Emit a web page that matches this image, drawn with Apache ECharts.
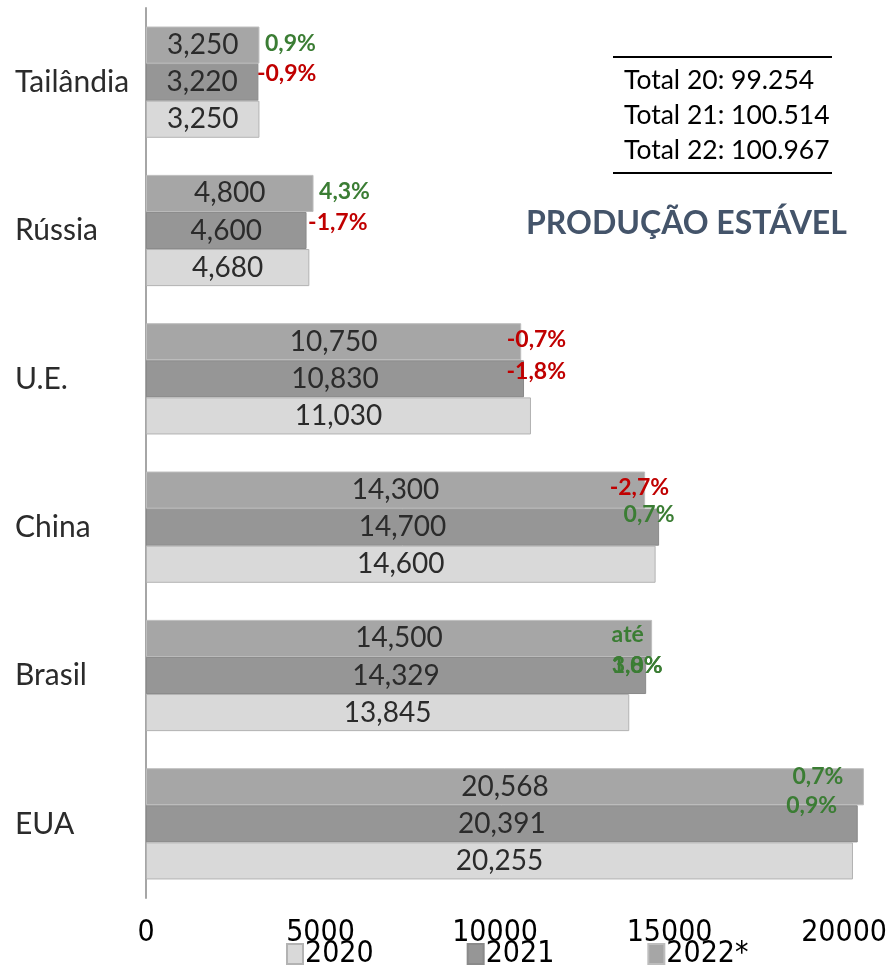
<!DOCTYPE html>
<html>
<head>
<meta charset="utf-8">
<script src="https://cdn.jsdelivr.net/npm/echarts@6/dist/echarts.min.js"></script>
<style>
  html, body { margin: 0; padding: 0; background: #fff; }
  #chart { width: 891px; height: 965px; }
</style>
</head>
<body>
<div id="chart"></div>
<script>
var categories = ['EUA', 'Brasil', 'China', 'U.E.', 'Rússia', 'Tailândia'];
var years = ['2020', '2021', '2022*'];
var v2020 = [20255, 13845, 14600, 11030, 4680, 3250];
var v2021 = [20391, 14329, 14700, 10830, 4600, 3220];
var v2022 = [20568, 14500, 14300, 10750, 4800, 3250];
var totals = ['Total 20: 99.254', 'Total 21: 100.514', 'Total 22: 100.967'];

// percent notes: [category, year of the bar it sits at, text, colour, dx, dy]
// dx/dy in px from the bar end, measured against the 2022* bar row
var GREEN = '#3b7d34', RED = '#c00000';
var notes = [
    ['Tailândia', '2022*', '0,9%', GREEN, 6, -1],
    ['Tailândia', '2021', '-0,9%', RED, -1, 29],
    ['Rússia', '2022*', '4,3%', GREEN, 6, -1],
    ['Rússia', '2021', '-1,7%', RED, 2, 30],
    ['U.E.', '2022*', '-0,7%', RED, -14, -2],
    ['U.E.', '2021', '-1,8%', RED, -17, 30],
    ['China', '2022*', '-2,7%', RED, -35, -2],
    ['China', '2021', '0,7%', GREEN, -35, 25],
    ['Brasil', '2022*', 'até', GREEN, -40, -3],
    ['Brasil', '2021', '3,0%', GREEN, -34, 28],
    ['Brasil', '2021', '1,8%', GREEN, -34, 28],
    ['EUA', '2022*', '0,7%', GREEN, -71, -10],
    ['EUA', '2021', '0,9%', GREEN, -71, 19]
];

var TXT = 'Lato';
var NARROW = '"DejaVu Sans Condensed", "Liberation Sans Narrow", sans-serif';

function valueOf(cat, yr) {
    var i = categories.indexOf(cat);
    return yr === '2021' ? v2021[i] : (yr === '2020' ? v2020[i] : v2022[i]);
}

var markData = notes.map(function (n) {
    return {
        coord: [valueOf(n[0], n[1]), n[0]],
        value: n[2],
        label: { color: n[3], position: [n[4], n[5]] }
    };
});

function fmt(p) { return p.value.toLocaleString('en-US'); }

var colors = ['#d9d9d9', '#969696', '#a6a6a6'];
var borders = ['#b3b3b3', '#8a8a8a', '#bdbdbd'];
var values = [v2020, v2021, v2022];

var series = years.map(function (y, k) {
    var s = {
        name: y,
        type: 'bar',
        data: values[k],
        barGap: '0%',
        barCategoryGap: '25%',
        itemStyle: { color: colors[k], borderColor: borders[k], borderWidth: 1 },
        label: {
            show: true, position: 'inside', formatter: fmt,
            fontFamily: TXT, fontSize: 28, color: '#2b2b2b'
        },
        emphasis: { disabled: true }
    };
    if (k === 2) {
        s.markPoint = {
            symbol: 'rect', symbolSize: 1,
            itemStyle: { color: 'rgba(0,0,0,0)' },
            label: {
                show: true, formatter: '{c}', align: 'left', verticalAlign: 'middle',
                fontFamily: TXT, fontWeight: 'bold', fontSize: 23
            },
            data: markData
        };
    }
    return s;
});
// first series is drawn on top of each group, so 2022* goes first
series.reverse();

var myChart = echarts.init(document.getElementById('chart'));
myChart.setOption({
    animation: false,
    grid: { left: 146, right: 12, top: 8, bottom: 67, containLabel: false, outerBoundsMode: 'none' },
    legend: {
        data: years, left: 281, top: 934, icon: 'rect',
        itemWidth: 16, itemHeight: 20, itemGap: 93,
        textStyle: { fontFamily: NARROW, fontSize: 30, color: '#000', padding: [0, 0, 0, -3] }
    },
    xAxis: {
        type: 'value', min: 0, max: 21000, interval: 5000,
        splitLine: { show: false }, axisLine: { show: false }, axisTick: { show: false },
        axisLabel: {
            fontFamily: NARROW, fontSize: 30, color: '#000', margin: 20, showMaxLabel: false,
            formatter: function (v) { return String(v); }
        }
    },
    yAxis: {
        type: 'category', data: categories,
        axisLine: { show: true, lineStyle: { color: '#a6a6a6', width: 2 } },
        axisTick: { show: false },
        axisLabel: { fontFamily: TXT, fontSize: 30, color: '#2b2b2b', margin: 131, align: 'left' }
    },
    graphic: [
        { type: 'line', shape: { x1: 613, y1: 57, x2: 832, y2: 57 }, style: { stroke: '#000', lineWidth: 2 } },
        { type: 'line', shape: { x1: 613, y1: 173, x2: 832, y2: 173 }, style: { stroke: '#000', lineWidth: 2 } },
        { type: 'text', left: 624, top: 67, style: { text: totals[0], font: '26.5px Lato', fill: '#000' } },
        { type: 'text', left: 624, top: 102, style: { text: totals[1], font: '26.5px Lato', fill: '#000' } },
        { type: 'text', left: 624, top: 137, style: { text: totals[2], font: '26.5px Lato', fill: '#000' } },
        { type: 'text', left: 526, top: 208, style: { text: 'PRODUÇÃO ESTÁVEL', font: 'bold 32px Lato', fill: '#44546a' } }
    ],
    series: series
});
</script>
</body>
</html>
